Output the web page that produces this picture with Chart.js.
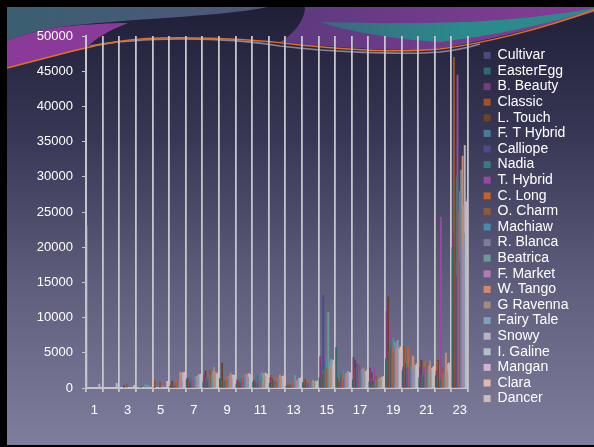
<!DOCTYPE html>
<html>
<head>
<meta charset="utf-8">
<script src="https://cdn.jsdelivr.net/npm/chart.js@4.4.1/dist/chart.umd.min.js"></script>
<style>
html,body{margin:0;padding:0;background:#000;}
#wrap{width:594px;height:447px;position:relative;}
canvas{display:block;}
</style>
</head>
<body>
<div id="wrap"><canvas id="c" width="594" height="447"></canvas></div>
<script>
// ---- data ----
const categories = ['1','2','3','4','5','6','7','8','9','10','11','12','13','14','15','16','17','18','19','20','21','22','23'];
const yTicks = [0,5000,10000,15000,20000,25000,30000,35000,40000,45000,50000];

const cultivar   = [23000,0,0,0,0,0,0,0,0,0,0,0,0,0,0,0,0,0,0,0,0,0,0];
const easterEgg  = [0,0,0,0,0,300,1200,900,1400,600,900,700,300,800,1500,5800,1200,900,4200,2500,1500,1800,20000];
const bBeauty    = [0,0,0,0,200,500,1500,1800,800,1200,1100,1500,200,400,4500,1500,4400,2900,11000,3000,3000,2500,22000];
const classic    = [0,0,0,0,1100,600,1300,1600,1000,900,1200,1800,600,1300,3400,1200,2800,1500,5200,6000,2000,3800,47000];
const lTouch     = [0,0,0,0,0,1000,900,2500,3600,900,800,1300,400,1200,2000,900,4000,2200,13000,3500,4000,4000,20000];
const ftHybrid   = [0,0,0,200,0,400,1700,1400,1200,1300,1600,1100,500,500,2500,1600,3000,800,7000,4000,2500,1500,18000];
const calliope   = [0,0,450,0,0,200,800,1000,900,700,600,900,300,300,13200,1400,3500,1000,5500,2800,1800,1200,16000];
const nadia      = [0,0,0,300,0,400,1400,1600,1100,1400,1900,1000,600,700,3600,2200,2400,600,6500,3200,2200,1400,30000];
const tHybrid    = [0,0,0,0,0,800,1200,1500,1000,1100,1300,1200,500,600,4400,1800,3200,2900,9000,2800,3000,24300,44500];
const cLong      = [0,0,0,0,0,1200,1000,1800,1500,1600,1400,1700,800,1000,3000,2000,2300,1200,6000,5800,3800,2200,25000];
const oCharm     = [0,0,650,0,900,900,1100,2600,1300,1500,1100,900,400,900,2800,1200,3300,1700,5000,3600,3500,3000,18000];
const machiaw    = [0,0,0,0,0,500,1300,1500,1200,1600,2000,1300,700,800,4200,2600,2600,900,7200,3400,2400,1600,28000];
const rBlanca    = [0,0,0,0,0,700,1500,2000,1700,1900,1900,1400,1000,700,2600,1800,2000,1000,5800,2600,2300,2000,22000];
const beatrica   = [0,0,0,500,0,600,1600,1800,1500,1700,2200,1200,1800,800,10800,1600,2500,1100,6600,3000,2000,1700,31000];
const fMarket    = [0,0,0,0,300,900,1400,1900,1600,1800,1500,1500,900,600,3800,1700,2700,1300,6300,2700,2600,1900,20000];
const wTango     = [0,0,0,0,0,2300,1700,2400,1800,2000,2100,1900,1000,1100,3200,2100,2200,1400,5600,4600,3200,5000,33000];
const gRavenna   = [0,0,0,0,0,1500,1300,3000,2200,1700,1800,1600,1100,1000,2900,1900,2900,1500,5400,4400,3900,2600,26000];
const fairyTale  = [0,0,0,400,0,1000,1800,2100,1400,1500,1700,1300,1200,900,4100,2400,2100,1300,6800,3100,2500,2100,22000];
const snowy      = [600,0,0,0,0,2200,1900,2200,1900,2100,2200,1700,1300,1000,3500,2300,2400,1600,5700,3300,2800,3500,34500];
const iGaline    = [0,700,0,0,0,2100,1800,2000,1700,1900,2100,1500,1400,900,3300,2000,2200,1400,5500,3000,2700,3600,25000];
const mangan     = [0,0,400,0,1000,2200,2000,1900,1800,2000,1900,1600,1300,800,4000,2200,2300,1500,5200,3200,2900,3000,26500];
const clara      = [0,0,350,0,900,2300,1900,2100,1900,1800,2000,1800,1500,1000,3700,2100,2600,1700,5900,3500,3100,3300,24000];
const dancer     = [0,0,0,0,1000,2000,1800,2300,1800,2000,1900,1700,1400,1100,3400,2200,2500,1600,5600,3400,2900,3400,27000];

const seriesNames = ['Cultivar','EasterEgg','B. Beauty','Classic','L. Touch','F. T Hybrid','Calliope','Nadia','T. Hybrid','C. Long','O. Charm','Machiaw','R. Blanca','Beatrica','F. Market','W. Tango','G Ravenna','Fairy Tale','Snowy','I. Galine','Mangan','Clara','Dancer'];
const seriesValues = [cultivar,easterEgg,bBeauty,classic,lTouch,ftHybrid,calliope,nadia,tHybrid,cLong,oCharm,machiaw,rBlanca,beatrica,fMarket,wTango,gRavenna,fairyTale,snowy,iGaline,mangan,clara,dancer];
const seriesColors = ['#4a4a7c','#2f6a6c','#7a3a80','#a4521f','#6c4228','#4a7a96','#4c4a8c','#3a7c7e','#9a4a9e','#c4622a','#8a5a3a','#4a8aac','#7c7c96','#6a9c96','#b07cb4','#d08a6a','#a08a7a','#7ca2ba','#b4b4c4','#b2c2c2','#d2b2d2','#e2baa8','#ccbcb2'];

// ---- background / decoration plugin ----
const bgPlugin = {
  id: 'bg',
  beforeDraw(chart) {
    const ctx = chart.ctx;
    ctx.save();
    ctx.fillStyle = '#000';
    ctx.fillRect(0, 0, 594, 447);
    const g = ctx.createLinearGradient(0, 7, 0, 445);
    g.addColorStop(0, '#1f1f38');
    g.addColorStop(0.3, '#383856');
    g.addColorStop(0.65, '#60607e');
    g.addColorStop(1, '#7e7e9c');
    ctx.fillStyle = g;
    ctx.fillRect(7, 7, 587, 438);
    ctx.beginPath(); ctx.rect(7, 7, 587, 438); ctx.clip();

    // top-left teal cap
    let tg = ctx.createLinearGradient(7, 0, 280, 0);
    tg.addColorStop(0, '#3a5f70'); tg.addColorStop(1, '#52567c');
    ctx.fillStyle = tg;
    ctx.beginPath();
    ctx.moveTo(7, 7); ctx.lineTo(268, 7);
    ctx.bezierCurveTo(220, 17, 120, 19, 60, 27);
    ctx.bezierCurveTo(35, 31, 15, 37, 7, 41);
    ctx.closePath(); ctx.fill();

    // left magenta wedge
    ctx.fillStyle = '#8a3a98';
    ctx.beginPath();
    ctx.moveTo(7, 41);
    ctx.bezierCurveTo(15, 37, 35, 31, 60, 27);
    ctx.bezierCurveTo(90, 24, 110, 23, 128, 23);
    ctx.bezierCurveTo(110, 30, 95, 38, 87, 48);
    ctx.lineTo(40, 60);
    ctx.lineTo(7, 68);
    ctx.closePath(); ctx.fill();

    // right magenta region
    let mg = ctx.createLinearGradient(300, 7, 594, 40);
    mg.addColorStop(0, '#5e3a80'); mg.addColorStop(1, '#883c98');
    ctx.fillStyle = mg;
    ctx.beginPath();
    ctx.moveTo(305, 7); ctx.lineTo(594, 7); ctx.lineTo(594, 12);
    ctx.bezierCurveTo(540, 28, 480, 42, 430, 50);
    ctx.bezierCurveTo(390, 51, 330, 47, 280, 42);
    ctx.bezierCurveTo(300, 30, 305, 15, 305, 7);
    ctx.closePath(); ctx.fill();

    // teal lens
    let lg = ctx.createLinearGradient(330, 0, 594, 0);
    lg.addColorStop(0, '#3a6a80'); lg.addColorStop(0.5, '#2a8a8c'); lg.addColorStop(1, '#2f8a88');
    ctx.fillStyle = lg;
    ctx.beginPath();
    ctx.moveTo(320, 22);
    ctx.bezierCurveTo(400, 24, 500, 26, 594, 8);
    ctx.lineTo(594, 10);
    ctx.bezierCurveTo(540, 26, 490, 36, 440, 42);
    ctx.bezierCurveTo(400, 40, 350, 32, 320, 22);
    ctx.closePath(); ctx.fill();

    // gray line beneath orange
    ctx.strokeStyle = 'rgba(150,150,172,0.85)';
    ctx.lineWidth = 1.6;
    ctx.beginPath();
    ctx.moveTo(90, 46);
    ctx.bezierCurveTo(140, 37, 220, 36, 280, 46);
    ctx.bezierCurveTo(330, 52, 400, 55, 440, 52);
    ctx.bezierCurveTo(460, 50, 470, 47, 480, 44);
    ctx.stroke();

    // orange line
    ctx.strokeStyle = '#e07022';
    ctx.lineWidth = 1.5;
    ctx.beginPath();
    ctx.moveTo(7, 68);
    ctx.bezierCurveTo(60, 55, 110, 38, 160, 38);
    ctx.bezierCurveTo(220, 37, 260, 40, 300, 45);
    ctx.bezierCurveTo(360, 51, 410, 52, 440, 49);
    ctx.bezierCurveTo(480, 44, 540, 30, 594, 10);
    ctx.stroke();
    ctx.restore();
  }
};

const datasets = seriesNames.map((name, i) => ({
  label: name,
  data: seriesValues[i],
  backgroundColor: i === 0
    ? (c) => (c.type === 'data' && c.dataIndex === 0 ? '#c4c4c8' : seriesColors[0])
    : seriesColors[i],
  borderWidth: 0,
  barPercentage: 2.6,
  categoryPercentage: 1.0
}));

const FONT = "'Liberation Sans', Arial, sans-serif";

new Chart(document.getElementById('c'), {
  type: 'bar',
  data: { labels: categories, datasets },
  options: {
    responsive: false,
    animation: false,
    devicePixelRatio: 1,
    layout: { padding: { left: 7, top: 36, right: 17, bottom: 29 } },
    plugins: {
      tooltip: { enabled: false },
      legend: {
        position: 'right',
        labels: {
          color: '#ffffff',
          boxWidth: 7,
          boxHeight: 7,
          padding: 1.6,
          font: { family: FONT, size: 14 },
          generateLabels: (chart) => {
            const items = Chart.defaults.plugins.legend.labels.generateLabels(chart);
            items.forEach((it, i) => { it.fillStyle = seriesColors[it.datasetIndex]; it.strokeStyle = seriesColors[it.datasetIndex]; it.lineWidth = 0; });
            return items;
          }
        }
      }
    },
    scales: {
      x: {
        grid: { display: true, offset: true, color: '#c6c6ca', lineWidth: 1.8, tickLength: 4, drawOnChartArea: true },
        border: { display: true, color: '#c6c6ca', width: 2 },
        ticks: {
          autoSkip: false, maxRotation: 0, color: '#ffffff', padding: 11,
          font: { family: FONT, size: 13 },
          callback: (v, idx) => (idx % 2 === 0 ? categories[idx] : '')
        },
        afterFit: (s) => { s.height = 30; }
      },
      y: {
        min: yTicks[0], max: yTicks[yTicks.length - 1],
        afterBuildTicks: (s) => { s.ticks = yTicks.map(v => ({ value: v })); },
        grid: { drawOnChartArea: false, color: '#c6c6ca', tickLength: 4, lineWidth: 1 },
        border: { display: true, color: '#c6c6ca', width: 2 },
        ticks: { color: '#ffffff', padding: 9, font: { family: FONT, size: 13 }, callback: (v) => String(v) },
        afterFit: (s) => { s.width = 79; }
      },
      y2: {
        position: 'right',
        display: true,
        grid: { display: false },
        border: { display: false },
        ticks: { display: false },
        afterFit: (s) => { s.width = 14; }
      }
    }
  },
  plugins: [bgPlugin]
});
</script>
</body>
</html>
